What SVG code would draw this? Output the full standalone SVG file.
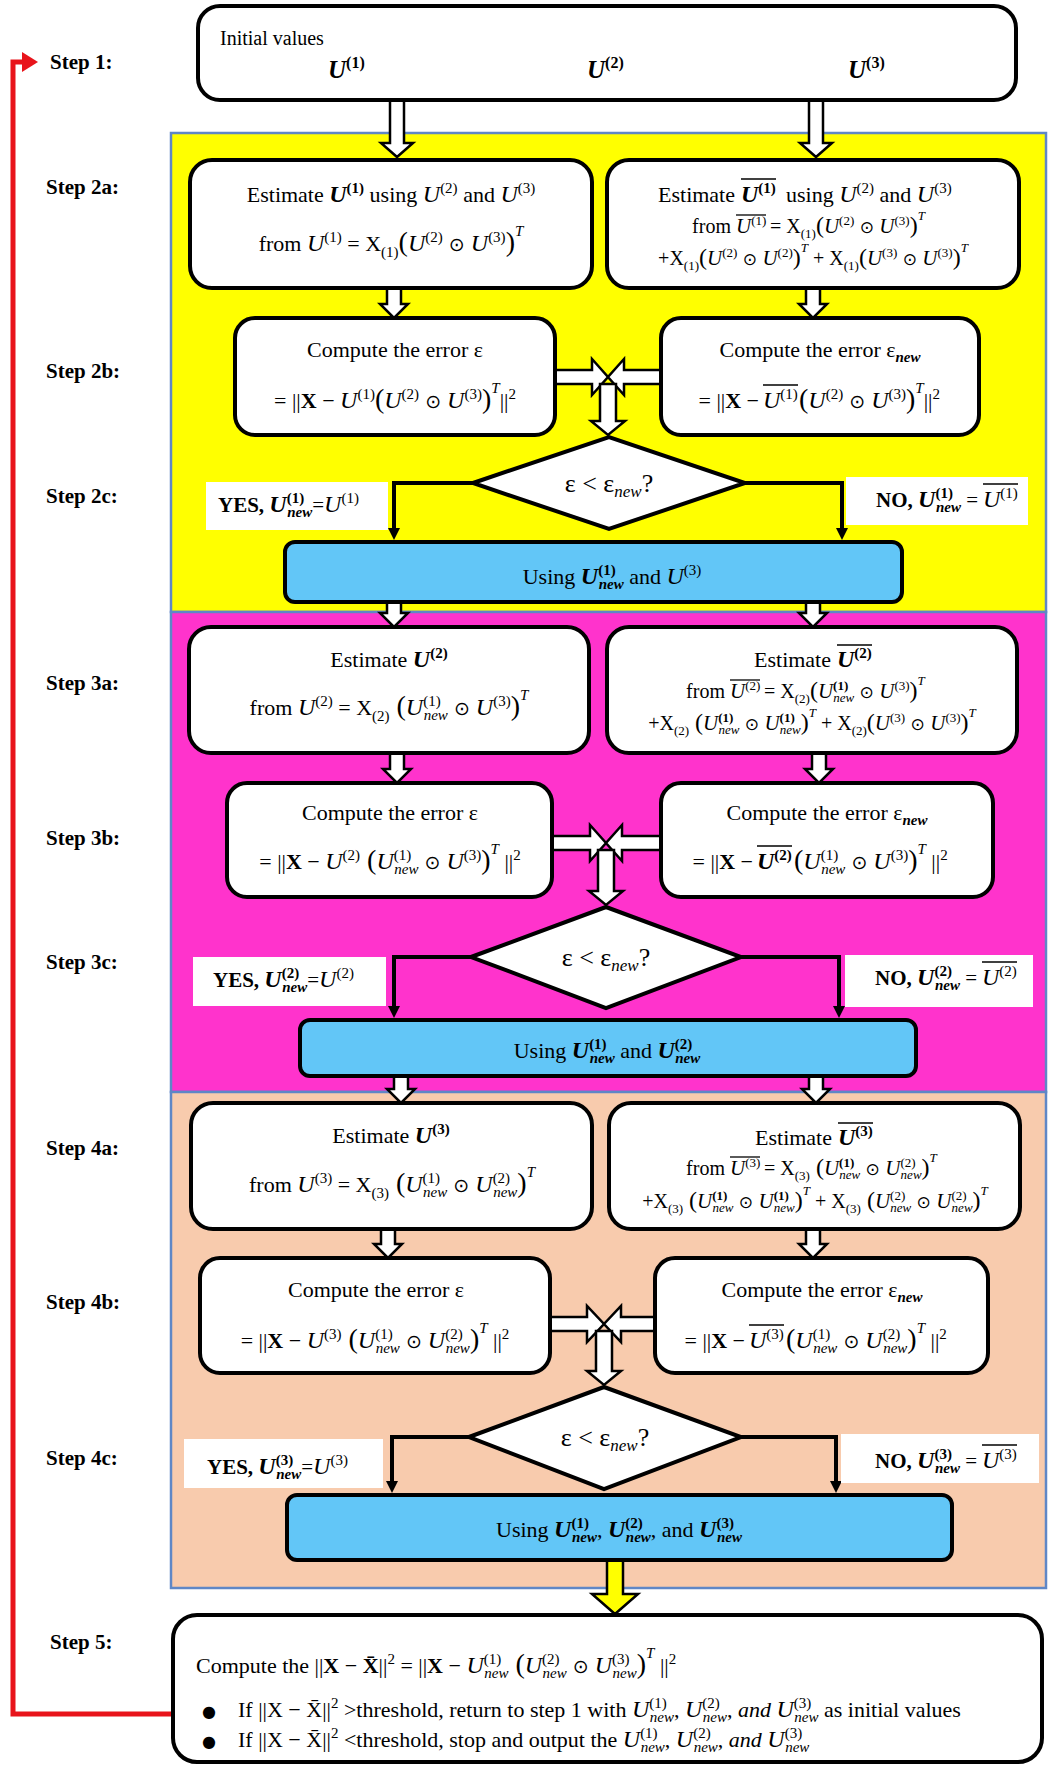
<svg xmlns="http://www.w3.org/2000/svg" width="1051" height="1766" viewBox="0 0 1051 1766">
<defs>
<style>
text{font-family:"Liberation Serif","Times New Roman",serif;fill:#000}
.lab{font-size:21px;font-weight:bold}
.box{fill:#fff;stroke:#000;stroke-width:4}
.blue{fill:#62c6f7;stroke:#000;stroke-width:4}
.dia{fill:#fff;stroke:#000;stroke-width:4;stroke-linejoin:miter}
.panel{stroke:#5f87c6;stroke-width:2.5}
.hollow{fill:#fff;stroke:#000;stroke-width:2.5;stroke-linejoin:miter}
.conn{fill:none;stroke:#000;stroke-width:4}
.ol{stroke:#000;stroke-width:1.3}
.tag{fill:#fff}
.i{font-style:italic}
.b{font-weight:bold;font-style:normal}
.bi{font-weight:bold;font-style:italic}
.m{font-size:24px}
.sc{font-size:15px}
.pr{font-size:28px}
.op{font-family:"DejaVu Sans",sans-serif;font-size:19px}
.m2{font-size:21px}
.s2{font-size:13px}
.pr2{font-size:24px}
.op2{font-family:"DejaVu Sans",sans-serif;font-size:17px}
.d{font-size:26px}
.ds{font-size:17px}
</style>
<marker id="tip" markerUnits="userSpaceOnUse" markerWidth="12" markerHeight="12" refX="6" refY="6" orient="auto">
<path d="M0,0 L12,6 L0,12 Z" fill="#000"/>
</marker>
</defs>

<!-- background stages -->
<g id="stages">
<rect class="panel" x="171" y="133" width="875" height="479" fill="#ffff00"/>
<rect class="panel" x="171" y="612" width="875" height="480" fill="#ff33cc"/>
<rect class="panel" x="171" y="1092" width="875" height="496" fill="#f8cbad"/>
</g>

<!-- step labels -->
<g id="step-labels">
<text class="lab" x="50" y="69">Step 1:</text>
<text class="lab" x="46" y="194">Step 2a:</text>
<text class="lab" x="46" y="378">Step 2b:</text>
<text class="lab" x="46" y="503">Step 2c:</text>
<text class="lab" x="46" y="690">Step 3a:</text>
<text class="lab" x="46" y="845">Step 3b:</text>
<text class="lab" x="46" y="969">Step 3c:</text>
<text class="lab" x="46" y="1155">Step 4a:</text>
<text class="lab" x="46" y="1309">Step 4b:</text>
<text class="lab" x="46" y="1465">Step 4c:</text>
<text class="lab" x="50" y="1649">Step 5:</text>
</g>

<!-- connectors -->
<g id="connectors">
<path class="hollow" d="M390,100 V143 H381 L397,157 L413,143 H404 V100 Z"/>
<path class="hollow" d="M809,100 V143 H800 L816,157 L832,143 H823 V100 Z"/>
<path class="hollow" d="M387,288 V304 H380 L394,318 L408,304 H401 V288 Z"/>
<path class="hollow" d="M806,288 V304 H799 L813,318 L827,304 H820 V288 Z"/>
<!-- both error boxes feed the comparison, tips meeting in the middle -->
<path class="hollow" d="M555,370 H592 V359 L608,377 L592,395 V384 H555 Z"/>
<path class="hollow" d="M661,370 H624 V359 L608,377 L624,395 V384 H661 Z"/>
<path class="hollow" d="M600,384 V421 H591 L608,435 L625,421 H616 V384 Z"/>
<path class="conn" d="M473,483 H394 V534" marker-end="url(#tip)"/>
<path class="conn" d="M745,483 H842 V534" marker-end="url(#tip)"/>
<path class="hollow" d="M387,602 V613 H380 L394,627 L408,613 H401 V602 Z"/>
<path class="hollow" d="M806,602 V613 H799 L813,627 L827,613 H820 V602 Z"/>
<path class="hollow" d="M390,753 V769 H383 L397,783 L411,769 H404 V753 Z"/>
<path class="hollow" d="M812,753 V769 H805 L819,783 L833,769 H826 V753 Z"/>
<path class="hollow" d="M552,836 H590 V825 L606,843 L590,861 V850 H552 Z"/>
<path class="hollow" d="M661,836 H622 V825 L606,843 L622,861 V850 H661 Z"/>
<path class="hollow" d="M598,850 V891 H589 L606,905 L623,891 H614 V850 Z"/>
<path class="conn" d="M471,957 H394 V1012" marker-end="url(#tip)"/>
<path class="conn" d="M741,957 H839 V1012" marker-end="url(#tip)"/>
<path class="hollow" d="M394,1076 V1089 H387 L401,1103 L415,1089 H408 V1076 Z"/>
<path class="hollow" d="M809,1076 V1089 H802 L816,1103 L830,1089 H823 V1076 Z"/>
<path class="hollow" d="M381,1229 V1244 H374 L388,1258 L402,1244 H395 V1229 Z"/>
<path class="hollow" d="M806,1229 V1244 H799 L813,1258 L827,1244 H820 V1229 Z"/>
<path class="hollow" d="M550,1317 H587 V1306 L604,1324 L587,1342 V1331 H550 Z"/>
<path class="hollow" d="M655,1317 H621 V1306 L604,1324 L621,1342 V1331 H655 Z"/>
<path class="hollow" d="M596,1331 V1371 H587 L604,1385 L621,1371 H612 V1331 Z"/>
<path class="conn" d="M469,1437 H392 V1487" marker-end="url(#tip)"/>
<path class="conn" d="M741,1437 H836 V1487" marker-end="url(#tip)"/>
<path d="M607,1560 V1594 H592 L615,1614 L638,1594 H623 V1560 Z" fill="#ffff00" stroke="#000" stroke-width="2.5"/>
<path d="M191,1714 H13 V62 H24" fill="none" stroke="#e8141b" stroke-width="5"/>
<path d="M22,52 L38,62 L22,72 Z" fill="#e8141b"/>
</g>

<!-- Step 1 -->
<g id="init">
<rect class="box" x="198" y="6" width="818" height="94" rx="22"/>
<text x="220" y="45" font-size="20">Initial values</text>
<text x="328" y="78" font-size="25"><tspan class="bi">U</tspan><tspan class="b" font-size="16" dy="-10">(1)</tspan></text>
<text x="587" y="78" font-size="25"><tspan class="bi">U</tspan><tspan class="b" font-size="16" dy="-10">(2)</tspan></text>
<text x="848" y="78" font-size="25"><tspan class="bi">U</tspan><tspan class="b" font-size="16" dy="-10">(3)</tspan></text>
</g>

<!-- Step 2a -->
<g id="est-u1">
<rect class="box" x="190" y="160" width="402" height="128" rx="22"/>
<text x="391" y="202" text-anchor="middle" font-size="22">Estimate <tspan class="bi m">U</tspan><tspan class="b sc" dy="-9">(1)</tspan><tspan dy="9"> using </tspan><tspan class="i m">U</tspan><tspan class="sc" dy="-9">(2)</tspan><tspan dy="9"> and </tspan><tspan class="i m">U</tspan><tspan class="sc" dy="-9">(3)</tspan></text>
<text x="391" y="251" text-anchor="middle" font-size="22">from <tspan class="i m">U</tspan><tspan class="sc" dy="-9">(1)</tspan><tspan dy="9"> = X</tspan><tspan class="sc" dy="6">(1)</tspan><tspan class="pr" dy="-6">(</tspan><tspan class="i m">U</tspan><tspan class="sc" dy="-9">(2)</tspan><tspan class="op" dy="9"> ⊙ </tspan><tspan class="i m">U</tspan><tspan class="sc" dy="-9">(3)</tspan><tspan class="pr" dy="9">)</tspan><tspan class="i sc" dy="-15">T</tspan></text>
</g>
<g id="est-u1-bar">
<rect class="box" x="607" y="160" width="412" height="128" rx="22"/>
<text x="735" y="202" text-anchor="end" font-size="22">Estimate</text>
<text x="741" y="202" font-size="22"><tspan class="bi m">U</tspan><tspan class="b sc" dy="-9">(1)</tspan></text>
<line class="ol" x1="741" y1="179" x2="776" y2="179"/>
<text x="786" y="202" font-size="22">using <tspan class="i m">U</tspan><tspan class="sc" dy="-9">(2)</tspan><tspan dy="9"> and </tspan><tspan class="i m">U</tspan><tspan class="sc" dy="-9">(3)</tspan></text>
<text x="731" y="233" text-anchor="end" font-size="20">from</text>
<text x="736" y="233" font-size="20"><tspan class="i m2">U</tspan><tspan class="s2" dy="-8">(1)</tspan></text>
<line class="ol" x1="736" y1="215" x2="766" y2="215"/>
<text x="770" y="233" font-size="20">= X<tspan class="s2" dy="5">(1)</tspan><tspan class="pr2" dy="-5">(</tspan><tspan class="i m2">U</tspan><tspan class="s2" dy="-8">(2)</tspan><tspan class="op2" dy="8"> ⊙ </tspan><tspan class="i m2">U</tspan><tspan class="s2" dy="-8">(3)</tspan><tspan class="pr2" dy="8">)</tspan><tspan class="i s2" dy="-13">T</tspan></text>
<text x="813" y="265" text-anchor="middle" font-size="20">+X<tspan class="s2" dy="5">(1)</tspan><tspan class="pr2" dy="-5">(</tspan><tspan class="i m2">U</tspan><tspan class="s2" dy="-8">(2)</tspan><tspan class="op2" dy="8"> ⊙ </tspan><tspan class="i m2">U</tspan><tspan class="s2" dy="-8">(2)</tspan><tspan class="pr2" dy="8">)</tspan><tspan class="i s2" dy="-13">T</tspan><tspan dy="13"> + X</tspan><tspan class="s2" dy="5">(1)</tspan><tspan class="pr2" dy="-5">(</tspan><tspan class="i m2">U</tspan><tspan class="s2" dy="-8">(3)</tspan><tspan class="op2" dy="8"> ⊙ </tspan><tspan class="i m2">U</tspan><tspan class="s2" dy="-8">(3)</tspan><tspan class="pr2" dy="8">)</tspan><tspan class="i s2" dy="-13">T</tspan></text>
</g>

<!-- Step 2b -->
<g id="err-u1">
<rect class="box" x="235" y="318" width="320" height="117" rx="20"/>
<text x="395" y="357" text-anchor="middle" font-size="22">Compute the error  ε</text>
<text x="395" y="408" text-anchor="middle" font-size="22">= ||<tspan class="b">X</tspan> − <tspan class="i m">U</tspan><tspan class="sc" dy="-9">(1)</tspan><tspan class="pr" dy="9">(</tspan><tspan class="i m">U</tspan><tspan class="sc" dy="-9">(2)</tspan><tspan class="op" dy="9"> ⊙ </tspan><tspan class="i m">U</tspan><tspan class="sc" dy="-9">(3)</tspan><tspan class="pr" dy="9">)</tspan><tspan class="i sc" dy="-15">T</tspan><tspan dy="15">||</tspan><tspan class="sc" dy="-9">2</tspan></text>
</g>
<g id="err-u1-bar">
<rect class="box" x="661" y="318" width="318" height="117" rx="20"/>
<text x="820" y="357" text-anchor="middle" font-size="22">Compute the error  ε<tspan class="bi sc" dy="5">new</tspan></text>
<text x="759" y="408" text-anchor="end" font-size="22">= ||<tspan class="b">X</tspan> −</text>
<text x="763" y="408" font-size="22"><tspan class="i m">U</tspan><tspan class="sc" dy="-9">(1)</tspan></text>
<line class="ol" x1="763" y1="385" x2="798" y2="385"/>
<text x="799" y="408" font-size="22"><tspan class="pr">(</tspan><tspan class="i m">U</tspan><tspan class="sc" dy="-9">(2)</tspan><tspan class="op" dy="9"> ⊙ </tspan><tspan class="i m">U</tspan><tspan class="sc" dy="-9">(3)</tspan><tspan class="pr" dy="9">)</tspan><tspan class="i sc" dy="-15">T</tspan><tspan dy="15">||</tspan><tspan class="sc" dy="-9">2</tspan></text>
</g>

<!-- Step 2c -->
<g id="cmp-1">
<path class="dia" d="M473,483 L609,437 L745,483 L609,529 Z"/>
<text x="609" y="492" text-anchor="middle" class="d">ε &lt; ε<tspan class="i ds" dy="5">new</tspan><tspan dy="-5">?</tspan></text>
</g>
<g id="yes-1">
<rect class="tag" x="206" y="482" width="182" height="48"/>
<text x="218" y="512" font-size="21"><tspan class="b">YES, </tspan><tspan class="bi m">U</tspan><tspan class="b sc" dy="-9">(1)</tspan><tspan class="bi sc" dx="-17" dy="14">new</tspan><tspan dy="-5">=</tspan><tspan class="i m">U</tspan><tspan class="sc" dy="-9">(1)</tspan></text>
</g>
<g id="no-1">
<rect class="tag" x="846" y="477" width="182" height="48"/>
<text x="978" y="507" text-anchor="end" font-size="21"><tspan class="b">NO, </tspan><tspan class="bi m">U</tspan><tspan class="b sc" dy="-9">(1)</tspan><tspan class="bi sc" dx="-17" dy="14">new</tspan><tspan dy="-5"> =</tspan></text>
<text x="983" y="507" font-size="22"><tspan class="i m">U</tspan><tspan class="sc" dy="-9">(1)</tspan></text>
<line class="ol" x1="983" y1="484" x2="1018" y2="484"/>
</g>
<g id="use-1">
<rect class="blue" x="285" y="542" width="617" height="60" rx="10"/>
<text x="612" y="584" text-anchor="middle" font-size="22">Using <tspan class="bi m">U</tspan><tspan class="b sc" dy="-9">(1)</tspan><tspan class="bi sc" dx="-17" dy="14">new</tspan><tspan dy="-5"> and </tspan><tspan class="i m">U</tspan><tspan class="sc" dy="-9">(3)</tspan></text>
</g>

<!-- Step 3a -->
<g id="est-u2">
<rect class="box" x="189" y="627" width="400" height="126" rx="22"/>
<text x="389" y="667" text-anchor="middle" font-size="22">Estimate <tspan class="bi m">U</tspan><tspan class="b sc" dy="-9">(2)</tspan></text>
<text x="389" y="715" text-anchor="middle" font-size="22">from <tspan class="i m">U</tspan><tspan class="sc" dy="-9">(2)</tspan><tspan dy="9"> = X</tspan><tspan class="sc" dy="6">(2)</tspan><tspan class="pr" dy="-6"> (</tspan><tspan class="i m">U</tspan><tspan class="sc" dy="-9">(1)</tspan><tspan class="i sc" dx="-17" dy="14">new</tspan><tspan class="op" dy="-5"> ⊙ </tspan><tspan class="i m">U</tspan><tspan class="sc" dy="-9">(3)</tspan><tspan class="pr" dy="9">)</tspan><tspan class="i sc" dy="-15">T</tspan></text>
</g>
<g id="est-u2-bar">
<rect class="box" x="607" y="627" width="410" height="126" rx="22"/>
<text x="831" y="667" text-anchor="end" font-size="22">Estimate</text>
<text x="837" y="667" font-size="22"><tspan class="bi m">U</tspan><tspan class="b sc" dy="-9">(2)</tspan></text>
<line class="ol" x1="837" y1="645" x2="872" y2="645"/>
<text x="725" y="698" text-anchor="end" font-size="20">from</text>
<text x="730" y="698" font-size="20"><tspan class="i m2">U</tspan><tspan class="s2" dy="-8">(2)</tspan></text>
<line class="ol" x1="730" y1="680" x2="760" y2="680"/>
<text x="764" y="698" font-size="20">= X<tspan class="s2" dy="5">(2)</tspan><tspan class="pr2" dy="-5">(</tspan><tspan class="i m2">U</tspan><tspan class="b s2" dy="-8">(1)</tspan><tspan class="i s2" dx="-15" dy="12">new</tspan><tspan class="op2" dy="-4"> ⊙ </tspan><tspan class="i m2">U</tspan><tspan class="s2" dy="-8">(3)</tspan><tspan class="pr2" dy="8">)</tspan><tspan class="i s2" dy="-13">T</tspan></text>
<text x="812" y="730" text-anchor="middle" font-size="20">+X<tspan class="s2" dy="5">(2)</tspan><tspan class="pr2" dy="-5"> (</tspan><tspan class="i m2">U</tspan><tspan class="b s2" dy="-8">(1)</tspan><tspan class="i s2" dx="-15" dy="12">new</tspan><tspan class="op2" dy="-4"> ⊙ </tspan><tspan class="i m2">U</tspan><tspan class="b s2" dy="-8">(1)</tspan><tspan class="i s2" dx="-15" dy="12">new</tspan><tspan class="pr2" dy="-4">)</tspan><tspan class="i s2" dy="-13">T</tspan><tspan dy="13"> + X</tspan><tspan class="s2" dy="5">(2)</tspan><tspan class="pr2" dy="-5">(</tspan><tspan class="i m2">U</tspan><tspan class="s2" dy="-8">(3)</tspan><tspan class="op2" dy="8"> ⊙ </tspan><tspan class="i m2">U</tspan><tspan class="s2" dy="-8">(3)</tspan><tspan class="pr2" dy="8">)</tspan><tspan class="i s2" dy="-13">T</tspan></text>
</g>

<!-- Step 3b -->
<g id="err-u2">
<rect class="box" x="227" y="783" width="325" height="114" rx="20"/>
<text x="390" y="820" text-anchor="middle" font-size="22">Compute the error  ε</text>
<text x="390" y="869" text-anchor="middle" font-size="22">= ||<tspan class="b">X</tspan> − <tspan class="i m">U</tspan><tspan class="sc" dy="-9">(2)</tspan><tspan class="pr" dy="9"> (</tspan><tspan class="i m">U</tspan><tspan class="sc" dy="-9">(1)</tspan><tspan class="i sc" dx="-17" dy="14">new</tspan><tspan class="op" dy="-5"> ⊙ </tspan><tspan class="i m">U</tspan><tspan class="sc" dy="-9">(3)</tspan><tspan class="pr" dy="9">)</tspan><tspan class="i sc" dy="-15">T</tspan><tspan dy="15"> ||</tspan><tspan class="sc" dy="-9">2</tspan></text>
</g>
<g id="err-u2-bar">
<rect class="box" x="661" y="783" width="332" height="114" rx="20"/>
<text x="827" y="820" text-anchor="middle" font-size="22">Compute the error  ε<tspan class="bi sc" dy="5">new</tspan></text>
<text x="753" y="869" text-anchor="end" font-size="22">= ||<tspan class="b">X</tspan> −</text>
<text x="757" y="869" font-size="22"><tspan class="bi m">U</tspan><tspan class="b sc" dy="-9">(2)</tspan></text>
<line class="ol" x1="757" y1="846" x2="792" y2="846"/>
<text x="794" y="869" font-size="22"><tspan class="pr">(</tspan><tspan class="i m">U</tspan><tspan class="sc" dy="-9">(1)</tspan><tspan class="i sc" dx="-17" dy="14">new</tspan><tspan class="op" dy="-5"> ⊙ </tspan><tspan class="i m">U</tspan><tspan class="sc" dy="-9">(3)</tspan><tspan class="pr" dy="9">)</tspan><tspan class="i sc" dy="-15">T</tspan><tspan dy="15"> ||</tspan><tspan class="sc" dy="-9">2</tspan></text>
</g>

<!-- Step 3c -->
<g id="cmp-2">
<path class="dia" d="M471,957 L606,907 L741,957 L606,1008 Z"/>
<text x="606" y="966" text-anchor="middle" class="d">ε &lt; ε<tspan class="i ds" dy="5">new</tspan><tspan dy="-5">?</tspan></text>
</g>
<g id="yes-2">
<rect class="tag" x="193" y="957" width="193" height="49"/>
<text x="213" y="987" font-size="21"><tspan class="b">YES, </tspan><tspan class="bi m">U</tspan><tspan class="b sc" dy="-9">(2)</tspan><tspan class="bi sc" dx="-17" dy="14">new</tspan><tspan dy="-5">=</tspan><tspan class="i m">U</tspan><tspan class="sc" dy="-9">(2)</tspan></text>
</g>
<g id="no-2">
<rect class="tag" x="845" y="955" width="188" height="52"/>
<text x="977" y="985" text-anchor="end" font-size="21"><tspan class="b">NO, </tspan><tspan class="bi m">U</tspan><tspan class="b sc" dy="-9">(2)</tspan><tspan class="bi sc" dx="-17" dy="14">new</tspan><tspan dy="-5"> =</tspan></text>
<text x="982" y="985" font-size="22"><tspan class="i m">U</tspan><tspan class="sc" dy="-9">(2)</tspan></text>
<line class="ol" x1="982" y1="962" x2="1017" y2="962"/>
</g>
<g id="use-2">
<rect class="blue" x="300" y="1020" width="616" height="56" rx="10"/>
<text x="607" y="1058" text-anchor="middle" font-size="22">Using <tspan class="bi m">U</tspan><tspan class="b sc" dy="-9">(1)</tspan><tspan class="bi sc" dx="-17" dy="14">new</tspan><tspan dy="-5"> and </tspan><tspan class="bi m">U</tspan><tspan class="b sc" dy="-9">(2)</tspan><tspan class="bi sc" dx="-17" dy="14">new</tspan></text>
</g>

<!-- Step 4a -->
<g id="est-u3">
<rect class="box" x="191" y="1103" width="401" height="126" rx="22"/>
<text x="391" y="1143" text-anchor="middle" font-size="22">Estimate <tspan class="bi m">U</tspan><tspan class="b sc" dy="-9">(3)</tspan></text>
<text x="392" y="1192" text-anchor="middle" font-size="22">from <tspan class="i m">U</tspan><tspan class="sc" dy="-9">(3)</tspan><tspan dy="9"> = X</tspan><tspan class="sc" dy="6">(3)</tspan><tspan class="pr" dy="-6"> (</tspan><tspan class="i m">U</tspan><tspan class="sc" dy="-9">(1)</tspan><tspan class="i sc" dx="-17" dy="14">new</tspan><tspan class="op" dy="-5"> ⊙ </tspan><tspan class="i m">U</tspan><tspan class="sc" dy="-9">(2)</tspan><tspan class="i sc" dx="-17" dy="14">new</tspan><tspan class="pr" dy="-5">)</tspan><tspan class="i sc" dy="-15">T</tspan></text>
</g>
<g id="est-u3-bar">
<rect class="box" x="609" y="1103" width="411" height="126" rx="22"/>
<text x="832" y="1145" text-anchor="end" font-size="22">Estimate</text>
<text x="838" y="1145" font-size="22"><tspan class="bi m">U</tspan><tspan class="b sc" dy="-9">(3)</tspan></text>
<line class="ol" x1="838" y1="1123" x2="873" y2="1123"/>
<text x="725" y="1175" text-anchor="end" font-size="20">from</text>
<text x="730" y="1175" font-size="20"><tspan class="i m2">U</tspan><tspan class="s2" dy="-8">(3)</tspan></text>
<line class="ol" x1="730" y1="1157" x2="760" y2="1157"/>
<text x="764" y="1175" font-size="20">= X<tspan class="s2" dy="5">(3)</tspan><tspan class="pr2" dy="-5"> (</tspan><tspan class="i m2">U</tspan><tspan class="b s2" dy="-8">(1)</tspan><tspan class="i s2" dx="-15" dy="12">new</tspan><tspan class="op2" dy="-4"> ⊙ </tspan><tspan class="i m2">U</tspan><tspan class="s2" dy="-8">(2)</tspan><tspan class="i s2" dx="-15" dy="12">new</tspan><tspan class="pr2" dy="-4">)</tspan><tspan class="i s2" dy="-13">T</tspan></text>
<text x="815" y="1208" text-anchor="middle" font-size="20">+X<tspan class="s2" dy="5">(3)</tspan><tspan class="pr2" dy="-5"> (</tspan><tspan class="i m2">U</tspan><tspan class="b s2" dy="-8">(1)</tspan><tspan class="i s2" dx="-15" dy="12">new</tspan><tspan class="op2" dy="-4"> ⊙ </tspan><tspan class="i m2">U</tspan><tspan class="b s2" dy="-8">(1)</tspan><tspan class="i s2" dx="-15" dy="12">new</tspan><tspan class="pr2" dy="-4">)</tspan><tspan class="i s2" dy="-13">T</tspan><tspan dy="13"> + X</tspan><tspan class="s2" dy="5">(3)</tspan><tspan class="pr2" dy="-5"> (</tspan><tspan class="i m2">U</tspan><tspan class="s2" dy="-8">(2)</tspan><tspan class="i s2" dx="-15" dy="12">new</tspan><tspan class="op2" dy="-4"> ⊙ </tspan><tspan class="i m2">U</tspan><tspan class="s2" dy="-8">(2)</tspan><tspan class="i s2" dx="-15" dy="12">new</tspan><tspan class="pr2" dy="-4">)</tspan><tspan class="i s2" dy="-13">T</tspan></text>
</g>

<!-- Step 4b -->
<g id="err-u3">
<rect class="box" x="200" y="1258" width="350" height="115" rx="20"/>
<text x="376" y="1297" text-anchor="middle" font-size="22">Compute the error  ε</text>
<text x="375" y="1348" text-anchor="middle" font-size="22">= ||<tspan class="b">X</tspan> − <tspan class="i m">U</tspan><tspan class="sc" dy="-9">(3)</tspan><tspan class="pr" dy="9"> (</tspan><tspan class="i m">U</tspan><tspan class="sc" dy="-9">(1)</tspan><tspan class="i sc" dx="-17" dy="14">new</tspan><tspan class="op" dy="-5"> ⊙ </tspan><tspan class="i m">U</tspan><tspan class="sc" dy="-9">(2)</tspan><tspan class="i sc" dx="-17" dy="14">new</tspan><tspan class="pr" dy="-5">)</tspan><tspan class="i sc" dy="-15">T</tspan><tspan dy="15"> ||</tspan><tspan class="sc" dy="-9">2</tspan></text>
</g>
<g id="err-u3-bar">
<rect class="box" x="655" y="1258" width="333" height="115" rx="20"/>
<text x="822" y="1297" text-anchor="middle" font-size="22">Compute the error  ε<tspan class="bi sc" dy="5">new</tspan></text>
<text x="745" y="1348" text-anchor="end" font-size="22">= ||<tspan class="b">X</tspan> −</text>
<text x="749" y="1348" font-size="22"><tspan class="i m">U</tspan><tspan class="sc" dy="-9">(3)</tspan></text>
<line class="ol" x1="749" y1="1325" x2="784" y2="1325"/>
<text x="786" y="1348" font-size="22"><tspan class="pr">(</tspan><tspan class="i m">U</tspan><tspan class="sc" dy="-9">(1)</tspan><tspan class="i sc" dx="-17" dy="14">new</tspan><tspan class="op" dy="-5"> ⊙ </tspan><tspan class="i m">U</tspan><tspan class="sc" dy="-9">(2)</tspan><tspan class="i sc" dx="-17" dy="14">new</tspan><tspan class="pr" dy="-5">)</tspan><tspan class="i sc" dy="-15">T</tspan><tspan dy="15"> ||</tspan><tspan class="sc" dy="-9">2</tspan></text>
</g>

<!-- Step 4c -->
<g id="cmp-3">
<path class="dia" d="M469,1437 L604,1387 L741,1437 L604,1489 Z"/>
<text x="605" y="1446" text-anchor="middle" class="d">ε &lt; ε<tspan class="i ds" dy="5">new</tspan><tspan dy="-5">?</tspan></text>
</g>
<g id="yes-3">
<rect class="tag" x="184" y="1439" width="199" height="49"/>
<text x="207" y="1474" font-size="21"><tspan class="b">YES, </tspan><tspan class="bi m">U</tspan><tspan class="b sc" dy="-9">(3)</tspan><tspan class="bi sc" dx="-17" dy="14">new</tspan><tspan dy="-5">=</tspan><tspan class="i m">U</tspan><tspan class="sc" dy="-9">(3)</tspan></text>
</g>
<g id="no-3">
<rect class="tag" x="841" y="1434" width="198" height="49"/>
<text x="977" y="1468" text-anchor="end" font-size="21"><tspan class="b">NO, </tspan><tspan class="bi m">U</tspan><tspan class="b sc" dy="-9">(3)</tspan><tspan class="bi sc" dx="-17" dy="14">new</tspan><tspan dy="-5"> =</tspan></text>
<text x="982" y="1468" font-size="22"><tspan class="i m">U</tspan><tspan class="sc" dy="-9">(3)</tspan></text>
<line class="ol" x1="982" y1="1445" x2="1017" y2="1445"/>
</g>
<g id="use-3">
<rect class="blue" x="287" y="1495" width="665" height="65" rx="10"/>
<text x="619" y="1537" text-anchor="middle" font-size="22">Using <tspan class="bi m">U</tspan><tspan class="b sc" dy="-9">(1)</tspan><tspan class="bi sc" dx="-17" dy="14">new</tspan><tspan dy="-5">,  </tspan><tspan class="bi m">U</tspan><tspan class="b sc" dy="-9">(2)</tspan><tspan class="bi sc" dx="-17" dy="14">new</tspan><tspan dy="-5">,  and </tspan><tspan class="bi m">U</tspan><tspan class="b sc" dy="-9">(3)</tspan><tspan class="bi sc" dx="-17" dy="14">new</tspan></text>
</g>

<!-- Step 5 -->
<g id="final">
<rect class="box" x="173" y="1615" width="869" height="147" rx="24"/>
<text x="196" y="1673" font-size="22">Compute the  ||<tspan class="b">X</tspan> − <tspan class="b">X̄</tspan>||<tspan class="sc" dy="-9">2</tspan><tspan dy="9"> = ||</tspan><tspan class="b">X</tspan> − <tspan class="i m">U</tspan><tspan class="sc" dy="-9">(1)</tspan><tspan class="i sc" dx="-17" dy="14">new</tspan><tspan class="pr" dy="-5"> (</tspan><tspan class="i m">U</tspan><tspan class="sc" dy="-9">(2)</tspan><tspan class="i sc" dx="-17" dy="14">new</tspan><tspan class="op" dy="-5"> ⊙ </tspan><tspan class="i m">U</tspan><tspan class="sc" dy="-9">(3)</tspan><tspan class="i sc" dx="-17" dy="14">new</tspan><tspan class="pr" dy="-5">)</tspan><tspan class="i sc" dy="-15">T</tspan><tspan dy="15"> ||</tspan><tspan class="sc" dy="-9">2</tspan></text>
<text x="202" y="1717" font-size="16" style="font-family:'DejaVu Sans',sans-serif">●</text>
<text x="238" y="1717" font-size="22">If ||X − X̄||<tspan class="sc" dy="-9">2</tspan><tspan dy="9"> &gt;threshold, return to step 1 with </tspan><tspan class="i m">U</tspan><tspan class="sc" dy="-9">(1)</tspan><tspan class="i sc" dx="-17" dy="14">new</tspan><tspan dy="-5">,  </tspan><tspan class="i m">U</tspan><tspan class="sc" dy="-9">(2)</tspan><tspan class="i sc" dx="-17" dy="14">new</tspan><tspan dy="-5">,    </tspan><tspan class="i">and </tspan><tspan class="i m">U</tspan><tspan class="sc" dy="-9">(3)</tspan><tspan class="i sc" dx="-17" dy="14">new</tspan><tspan dy="-5">  as initial values</tspan></text>
<text x="202" y="1747" font-size="16" style="font-family:'DejaVu Sans',sans-serif">●</text>
<text x="238" y="1747" font-size="22">If ||X − X̄||<tspan class="sc" dy="-9">2</tspan><tspan dy="9"> &lt;threshold, stop and output the </tspan><tspan class="i m">U</tspan><tspan class="sc" dy="-9">(1)</tspan><tspan class="i sc" dx="-17" dy="14">new</tspan><tspan dy="-5">,  </tspan><tspan class="i m">U</tspan><tspan class="sc" dy="-9">(2)</tspan><tspan class="i sc" dx="-17" dy="14">new</tspan><tspan dy="-5">,    </tspan><tspan class="i">and </tspan><tspan class="i m">U</tspan><tspan class="sc" dy="-9">(3)</tspan><tspan class="i sc" dx="-17" dy="14">new</tspan></text>
</g>
</svg>
